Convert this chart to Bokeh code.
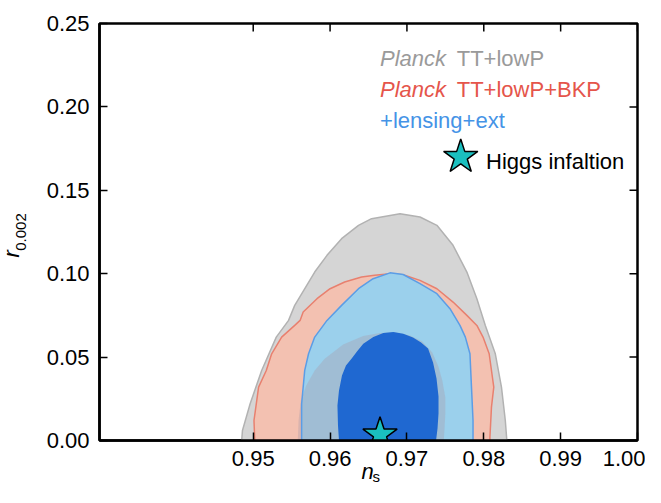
import math
from bokeh.plotting import figure
from bokeh.models import FixedTicker, Label, NumeralTickFormatter, Range1d, Title
from bokeh.embed import file_html
from bokeh.resources import INLINE

# ---- data ----
x_ticks = [0.95, 0.96, 0.97, 0.98, 0.99, 1.00]
y_ticks = [0.00, 0.05, 0.10, 0.15, 0.20, 0.25]

# Planck TT+lowP, 95% region
gray95_ns = [0.9485, 0.9486, 0.9496, 0.9511, 0.9530, 0.9546, 0.9554, 0.9580, 0.9596, 0.9615,
             0.9637, 0.9654, 0.9691, 0.9717, 0.9739, 0.9760, 0.9778, 0.9791, 0.9802, 0.9815,
             0.9823, 0.9828, 0.9830]
gray95_r = [0.000, 0.006, 0.022, 0.042, 0.062, 0.072, 0.081, 0.101, 0.111, 0.121,
            0.129, 0.133, 0.136, 0.134, 0.129, 0.117, 0.101, 0.085, 0.069, 0.052,
            0.032, 0.012, 0.000]

# Planck TT+lowP, 68% region
gray68_ns = [0.9558, 0.9559, 0.9562, 0.9569, 0.9580, 0.9593, 0.9617, 0.9643, 0.9665, 0.9685,
             0.9704, 0.9720, 0.9733, 0.9741, 0.9746, 0.9750, 0.9750, 0.9749, 0.9748]
gray68_r = [0.000, 0.012, 0.024, 0.033, 0.042, 0.049, 0.0576, 0.0627, 0.0645, 0.0648,
            0.063, 0.0594, 0.0528, 0.0444, 0.036, 0.0258, 0.0162, 0.0078, 0.000]

# Planck TT+lowP+BKP, 95% region
bkp95_ns = [0.9502, 0.9501, 0.9504, 0.9507, 0.9517, 0.9524, 0.9537, 0.9554, 0.9561, 0.9565,
            0.9583, 0.9600, 0.9619, 0.9641, 0.9658, 0.9678, 0.9695, 0.9717, 0.9739, 0.9760,
            0.9778, 0.9791, 0.9799, 0.9807, 0.9813, 0.9810, 0.9808, 0.9808]
bkp95_r = [0.000, 0.012, 0.022, 0.032, 0.042, 0.052, 0.062, 0.069, 0.072, 0.077,
           0.085, 0.091, 0.095, 0.098, 0.099, 0.100, 0.0994, 0.096, 0.091, 0.083,
           0.075, 0.069, 0.062, 0.052, 0.032, 0.020, 0.002, 0.000]

# +lensing+ext, 95% region
lens95_ns = [0.9563, 0.9563, 0.9567, 0.9572, 0.9580, 0.9596, 0.9615, 0.9637, 0.9656, 0.9678,
             0.9695, 0.9717, 0.9739, 0.9756, 0.9769, 0.9776, 0.9782, 0.9784, 0.9786, 0.9786]
lens95_r = [0.000, 0.022, 0.042, 0.052, 0.062, 0.072, 0.081, 0.091, 0.097, 0.1005,
            0.0995, 0.094, 0.088, 0.079, 0.069, 0.062, 0.052, 0.032, 0.012, 0.000]

# +lensing+ext, 68% region
lens68_ns = [0.96116, 0.96103, 0.96096, 0.96116, 0.96155, 0.96207, 0.96281, 0.96350, 0.96432,
             0.96563, 0.96693, 0.96823, 0.96953, 0.97079, 0.97184, 0.97275, 0.97340, 0.97385,
             0.97411, 0.97411, 0.97398, 0.97379]
lens68_r = [0.000, 0.009, 0.021, 0.030, 0.039, 0.045, 0.0492, 0.0534, 0.058,
            0.062, 0.0644, 0.0651, 0.064, 0.0618, 0.0588, 0.0552, 0.0468, 0.0372,
            0.0264, 0.0162, 0.0072, 0.000]

# Higgs inflation prediction and its legend marker
higgs_ns = [0.9665]
higgs_r = [0.0035]
legend_star_ns = [0.9770]
legend_star_r = [0.1700]

FONT = "Liberation Sans"
X0, X1 = 0.93, 1.00
Y0, Y1 = 0.0, 0.25
FRAME_W, FRAME_H = 538, 417
TICK_PX = 8

p = figure(width=645, height=487, output_backend="svg", toolbar_location=None,
           x_range=Range1d(X0, X1), y_range=Range1d(Y0, Y1),
           min_border_left=99, min_border_right=8, min_border_top=23, min_border_bottom=47)
p.grid.visible = False
p.outline_line_color = "black"
p.outline_line_width = 2.5
p.background_fill_color = "white"
p.border_fill_color = "white"

# contours
p.patch(gray95_ns, gray95_r, fill_color="#d5d5d5", line_color="#b2b2b2", line_width=1.5)
p.patch(bkp95_ns, bkp95_r, fill_color="#f3c1b1", line_color="#e8806f", line_width=1.5)
p.patch(lens95_ns, lens95_r, fill_color="#9bd0ec", line_color=None)
p.patch(gray68_ns, gray68_r, fill_color="#a99aaa", fill_alpha=0.35, line_color=None)
p.patch(lens95_ns, lens95_r, fill_color=None, line_color="#5b9de6", line_width=1.5)
p.patch(lens68_ns, lens68_r, fill_color="#1f68d1", line_color=None)

# mirrored ticks on the top and right edges (from the tick lists)
dy = TICK_PX * (Y1 - Y0) / FRAME_H
dx = TICK_PX * (X1 - X0) / FRAME_W
p.segment(x0=x_ticks, y0=[Y1] * len(x_ticks), x1=x_ticks, y1=[Y1 - dy] * len(x_ticks),
          line_color="black", line_width=1.5)
p.segment(x0=[X1] * len(y_ticks), y0=y_ticks, x1=[X1 - dx] * len(y_ticks), y1=y_ticks,
          line_color="black", line_width=1.5)

p.scatter(higgs_ns, higgs_r, marker="star", size=36, fill_color="#1abfbf",
          line_color="black", line_width=1.5)
p.scatter(legend_star_ns, legend_star_r, marker="star", size=36, fill_color="#1abfbf",
          line_color="black", line_width=1.5)

# axes
bottom = p.below[0]
left = p.left[0]
bottom.ticker = FixedTicker(ticks=x_ticks)
left.ticker = FixedTicker(ticks=y_ticks)
for ax in [bottom, left]:
    ax.formatter = NumeralTickFormatter(format="0.00")
    ax.major_tick_in = TICK_PX
    ax.major_tick_out = 0
    ax.minor_tick_in = 0
    ax.minor_tick_out = 0
    ax.axis_line_width = 2.5
    ax.axis_line_color = "black"
    ax.major_tick_line_width = 1.5
    ax.major_tick_line_color = "black"
    ax.major_label_text_font = FONT
    ax.major_label_text_font_size = "22px"
    ax.major_label_text_color = "black"
    ax.major_label_standoff = 10

# subscript of the y label as the axis' own label
left.axis_label = "0.002"
left.axis_label_text_font = FONT
left.axis_label_text_font_size = "15px"
left.axis_label_text_font_style = "normal"
left.axis_label_text_color = "black"
left.axis_label_standoff = 18


def lab(x, y, text, color, italic=False, size="22px"):
    p.add_layout(Label(x=x, y=y, text=text, text_color=color, text_font=FONT,
                       text_font_size=size, text_font_style="italic" if italic else "normal",
                       text_baseline="alphabetic", text_align="left"))


# legend texts
lab(0.9665, 0.2290, "Planck", "#9a9a9a", italic=True)
lab(0.97648, 0.2290, "TT+lowP", "#9a9a9a")
lab(0.9665, 0.2104, "Planck", "#e5554b", italic=True)
lab(0.97648, 0.2104, "TT+lowP+BKP", "#e5554b")
lab(0.9665, 0.1916, "+lensing+ext", "#4593e6")
lab(0.9803, 0.1670, "Higgs infaltion", "black")


# remaining axis-label parts as side-panel titles
def side_title(text, side, size, italic, offset, valign, standoff):
    t = Title(text=text, text_font=FONT, text_font_size=size,
              text_font_style="italic" if italic else "normal", text_color="black",
              align="left", offset=offset, vertical_align=valign, standoff=standoff)
    p.add_layout(t, side)


side_title("r", "left", "22px", True, 183, "bottom", -23)
side_title("n", "below", "22px", True, 262, "top", -19)
side_title("s", "below", "15px", False, 273, "top", -17)

open("out.html", "w").write(file_html(p, INLINE))
